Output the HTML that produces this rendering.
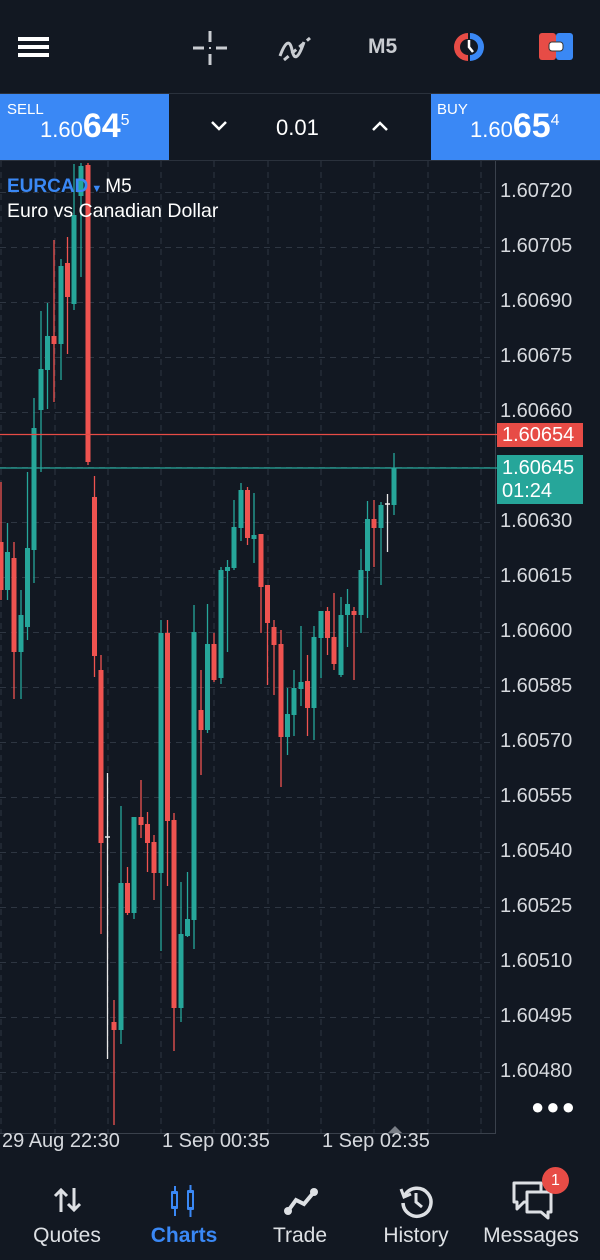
<!DOCTYPE html>
<html><head><meta charset="utf-8"><style>
*{margin:0;padding:0;box-sizing:border-box}
body{width:600px;height:1260px;background:#121822;font-family:"Liberation Sans",sans-serif;color:#e6e8eb;position:relative;overflow:hidden}
.abs{position:absolute}
.yl{position:absolute;left:500px;font-size:20px;color:#d6d9de;line-height:20px}
.nav{position:absolute;top:1224px;font-size:21px;color:#dde0e4;text-align:center;width:120px}
.xl{position:absolute;top:1130px;font-size:20px;color:#d6d9de}
</style></head><body>
<!-- top bar -->
<div class="abs" style="left:18px;top:37px;width:31px;height:4px;background:#fff"></div>
<div class="abs" style="left:18px;top:45px;width:31px;height:4px;background:#fff"></div>
<div class="abs" style="left:18px;top:53px;width:31px;height:4px;background:#fff"></div>
<svg class="abs" style="left:190px;top:28px" width="40" height="40"><g stroke="#c9ccd1" stroke-width="3"><line x1="20" y1="3" x2="20" y2="14"/><line x1="20" y1="26" x2="20" y2="37"/><line x1="3" y1="20" x2="14" y2="20"/><line x1="26" y1="20" x2="37" y2="20"/></g><rect x="19" y="19" width="2" height="2" fill="#c9ccd1"/></svg>
<svg class="abs" style="left:276px;top:30px" width="40" height="36"><path d="M4 26 C10 10,14 10,16 20 S22 30,28 12" stroke="#c9ccd1" stroke-width="3" fill="none"/><line x1="8" y1="30" x2="34" y2="8" stroke="#c9ccd1" stroke-width="3" stroke-dasharray="6 4"/></svg>
<div class="abs" style="left:368px;top:35px;font-size:21px;font-weight:bold;color:#c9ccd1">M5</div>
<svg class="abs" style="left:452px;top:31px" width="36" height="32"><path d="M16 2 A14 14 0 0 0 16 30 L16 24 A8 8 0 0 1 16 8Z" fill="#e74c46"/><path d="M18 2 A14 14 0 0 1 18 30 L18 24 A8 8 0 0 0 18 8Z" fill="#3a88f5"/><path d="M17 9 V16 L21 21" stroke="#fff" stroke-width="2.5" fill="none"/></svg>
<svg class="abs" style="left:539px;top:33px" width="36" height="28"><rect x="0" y="0" width="17" height="27" rx="3" fill="#e74c46"/><rect x="17" y="0" width="17" height="27" rx="3" fill="#3a88f5"/><rect x="10" y="9" width="14" height="9" rx="3" fill="#fff" stroke="#333" stroke-width="1"/></svg>
<!-- trade row -->
<div class="abs" style="left:0;top:93px;width:600px;height:1px;background:#2a313c"></div>
<div class="abs" style="left:0;top:94px;width:169px;height:66px;background:#3a88f5"></div>
<div class="abs" style="left:431px;top:94px;width:169px;height:66px;background:#3a88f5"></div>
<div class="abs" style="left:7px;top:101px;font-size:15px;color:#fff">SELL</div>
<div class="abs" style="left:40px;top:107px;color:#fff;white-space:nowrap"><span style="font-size:22px">1.60</span><span style="font-size:34px;font-weight:bold">64</span><sup style="font-size:16px;vertical-align:12px">5</sup></div>
<div class="abs" style="left:437px;top:101px;font-size:15px;color:#fff">BUY</div>
<div class="abs" style="left:470px;top:107px;color:#fff;white-space:nowrap"><span style="font-size:22px">1.60</span><span style="font-size:34px;font-weight:bold">65</span><sup style="font-size:16px;vertical-align:12px">4</sup></div>
<svg class="abs" style="left:209px;top:119px" width="20" height="14"><path d="M3 3 L10 10 L17 3" stroke="#fff" stroke-width="2.5" fill="none"/></svg>
<svg class="abs" style="left:370px;top:119px" width="20" height="14"><path d="M3 11 L10 4 L17 11" stroke="#fff" stroke-width="2.5" fill="none"/></svg>
<div class="abs" style="left:276px;top:115px;font-size:22px;color:#fff">0.01</div>
<div class="abs" style="left:0;top:160px;width:600px;height:1px;background:#2a313c"></div>
<!-- chart -->
<svg id="ch" class="abs" style="left:0;top:0" width="600" height="1260"></svg>
<div class="abs" style="left:7px;top:176px;font-size:19px;white-space:nowrap"><span style="color:#3a88f5;font-weight:bold">EURCAD</span><span style="color:#3a88f5;font-size:11px"> ▼ </span><span style="color:#fff">M5</span></div>
<div class="abs" style="left:7px;top:200px;font-size:19.5px;color:#fff">Euro vs Canadian Dollar</div>
<div class="yl" style="top:181px">1.60720</div>
<div class="yl" style="top:236px">1.60705</div>
<div class="yl" style="top:291px">1.60690</div>
<div class="yl" style="top:346px">1.60675</div>
<div class="yl" style="top:401px">1.60660</div>
<div class="abs" style="left:497px;top:423px;width:86px;height:24px;background:#e74c46;color:#fff;font-size:20px;padding-left:5px;line-height:24px">1.60654</div>
<div class="abs" style="left:497px;top:455px;width:86px;height:49px;background:#26a69a;color:#fff;font-size:20px;padding-left:5px;line-height:23px;padding-top:2px">1.60645<br>01:24</div>
<div class="yl" style="top:511px">1.60630</div>
<div class="yl" style="top:566px">1.60615</div>
<div class="yl" style="top:621px">1.60600</div>
<div class="yl" style="top:676px">1.60585</div>
<div class="yl" style="top:731px">1.60570</div>
<div class="yl" style="top:786px">1.60555</div>
<div class="yl" style="top:841px">1.60540</div>
<div class="yl" style="top:896px">1.60525</div>
<div class="yl" style="top:951px">1.60510</div>
<div class="yl" style="top:1006px">1.60495</div>
<div class="yl" style="top:1061px">1.60480</div>
<div class="abs" style="left:531px;top:1094px;font-size:22px;color:#fff;letter-spacing:2px">●●●</div>
<div class="xl" style="left:2px">29 Aug 22:30</div>
<div class="xl" style="left:162px">1 Sep 00:35</div>
<div class="xl" style="left:322px">1 Sep 02:35</div>
<!-- bottom nav -->
<svg class="abs" style="left:52px;top:1186px" width="32" height="28"><g stroke="#dde0e4" stroke-width="3" fill="none"><path d="M9 26 V4 M3 10 L9 4 L15 10"/><path d="M22 2 V24 M16 18 L22 24 L28 18"/></g></svg>
<svg class="abs" style="left:168px;top:1184px" width="32" height="34"><g fill="#3a88f5"><rect x="3" y="7" width="7" height="18" rx="1"/><rect x="6" y="2" width="2" height="30"/><rect x="19" y="6" width="7" height="20" rx="1"/><rect x="21.5" y="1" width="2" height="32"/></g><rect x="5" y="10" width="3" height="12" fill="#121822"/><rect x="21" y="9" width="3" height="14" fill="#121822"/></svg>
<svg class="abs" style="left:283px;top:1186px" width="36" height="30"><path d="M5 25 L13 14 L21 18 L31 6" stroke="#dde0e4" stroke-width="4" fill="none"/><circle cx="5" cy="25" r="4" fill="#dde0e4"/><circle cx="31" cy="6" r="4" fill="#dde0e4"/></svg>
<svg class="abs" style="left:398px;top:1183px" width="36" height="36"><path d="M7 12 A14 14 0 1 1 5 20" stroke="#dde0e4" stroke-width="3.5" fill="none"/><path d="M3 6 L6 14 L13 11" stroke="#dde0e4" stroke-width="3" fill="none"/><path d="M18 10 V19 L24 24" stroke="#dde0e4" stroke-width="3" fill="none"/></svg>
<svg class="abs" style="left:511px;top:1180px" width="44" height="42"><path d="M3 3 H30 V22 H13 L6 29 V22 H3Z" stroke="#dde0e4" stroke-width="3" fill="#121822" stroke-linejoin="round"/><path d="M16 12 H40 V32 H37 V38 L30 32 H16Z" stroke="#dde0e4" stroke-width="3" fill="#121822" stroke-linejoin="round"/></svg>
<div class="abs" style="left:542px;top:1167px;width:27px;height:27px;border-radius:50%;background:#e74c46;color:#fff;font-size:16px;text-align:center;line-height:27px">1</div>
<div class="nav" style="left:7px">Quotes</div>
<div class="nav" style="left:124px;color:#3a88f5;font-weight:bold">Charts</div>
<div class="nav" style="left:240px">Trade</div>
<div class="nav" style="left:356px">History</div>
<div class="nav" style="left:471px">Messages</div>
<script>
var s='';
for(var k=0;k<17;k++){var y=192.5+55*k;s+='<line x1="0" y1="'+y+'" x2="495" y2="'+y+'" stroke="#2e3642" stroke-width="1" stroke-dasharray="6 5"/>';}
[1,55,108,161,214,268,321,374,428,481].forEach(function(x){s+='<line x1="'+x+'" y1="161" x2="'+x+'" y2="1133" stroke="#2e3642" stroke-width="1" stroke-dasharray="6 5"/>';});
s+='<line x1="495.5" y1="161" x2="495.5" y2="1133" stroke="#3a414c" stroke-width="1"/>';
s+='<line x1="0" y1="1133.5" x2="496" y2="1133.5" stroke="#3a414c" stroke-width="1"/>';
s+='<polygon points="388,1133 395,1126 402,1133" fill="#7a7f87"/>';
var G='#26a69a',R='#ef5350',W='#e8e8e8';
var c=[
[1,482,542,590,600,R],[7.5,523,552,590,600,G],[14,542,558,652,699,R],[21,590,615,652,699,G],[27.5,472,548,627,640,G],
[34,398,428,550,583,G],[41,311,369,410,472,G],[47.5,303,336,370,409,G],[54,240,336,344,402,R],[61,259,266,344,380,G],
[67.5,237,263,297,354,R],[74,164,215,304,310,G],[81,163,166,196,277,G],[88,163,165,462,465,R],[94.5,476,497,656,677,R],
[101,655,670,843,934,R],[107.5,773,837,839,1059,W],[114,1000,1022,1030,1125,R],[121,806,883,1030,1044,G],[127.5,867,883,913,915,R],
[134,817,817,913,919,G],[141,780,817,825,838,R],[147.5,812,824,843,872,R],[154,835,842,873,900,R],[161,620,633,873,951,G],
[167.5,620,633,821,886,R],[174,813,820,1008,1051,R],[181,882,934,1008,1022,G],[187.5,872,919,936,937,G],[194,605,632,920,949,G],
[201,670,710,730,775,R],[207.5,604,644,730,733,G],[214,633,644,680,682,R],[221,567,570,678,684,G],[227.5,560,567,571,652,G],
[234,500,527,568,570,G],[241,483,490,528,541,G],[247.5,487,490,538,545,R],[254,493,535,539,563,G],[261,534,534,587,633,R],
[267.5,585,585,623,685,R],[274,620,627,645,695,R],[281,630,644,737,787,R],[287.5,688,714,737,755,G],[294,670,688,715,736,G],
[301,626,682,689,706,G],[307.5,655,681,708,736,R],[314,626,637,708,740,G],[321,611,611,638,678,G],[327.5,607,611,638,655,R],
[334,593,637,664,670,R],[341,597,615,675,677,G],[347.5,589,604,615,647,G],[354,607,611,615,680,R],[361,549,570,615,633,G],
[367.5,501,519,571,618,G],[374,500,519,528,567,R],[381,502,505,528,585,G],[387.5,494,504,506,552,W],[394,453,468,505,515,G]];
c.forEach(function(d){var x=d[0];
s+='<line x1="'+x+'" y1="'+d[1]+'" x2="'+x+'" y2="'+d[4]+'" stroke="'+d[5]+'" stroke-width="1.3"/>';
if(d[5]==W){s+='<line x1="'+(x-2.5)+'" y1="'+d[2]+'" x2="'+(x+2.5)+'" y2="'+d[2]+'" stroke="'+W+'" stroke-width="1.5"/>';}
else s+='<rect x="'+(x-2.5)+'" y="'+d[2]+'" width="5" height="'+Math.max(2,d[3]-d[2])+'" fill="'+d[5]+'"/>';});
s+='<line x1="0" y1="434.5" x2="497" y2="434.5" stroke="#e74c46" stroke-width="1.3"/>';
s+='<line x1="0" y1="468" x2="497" y2="468" stroke="#26a69a" stroke-width="1.3"/>';
document.getElementById('ch').innerHTML=s;
</script>
</body></html>
